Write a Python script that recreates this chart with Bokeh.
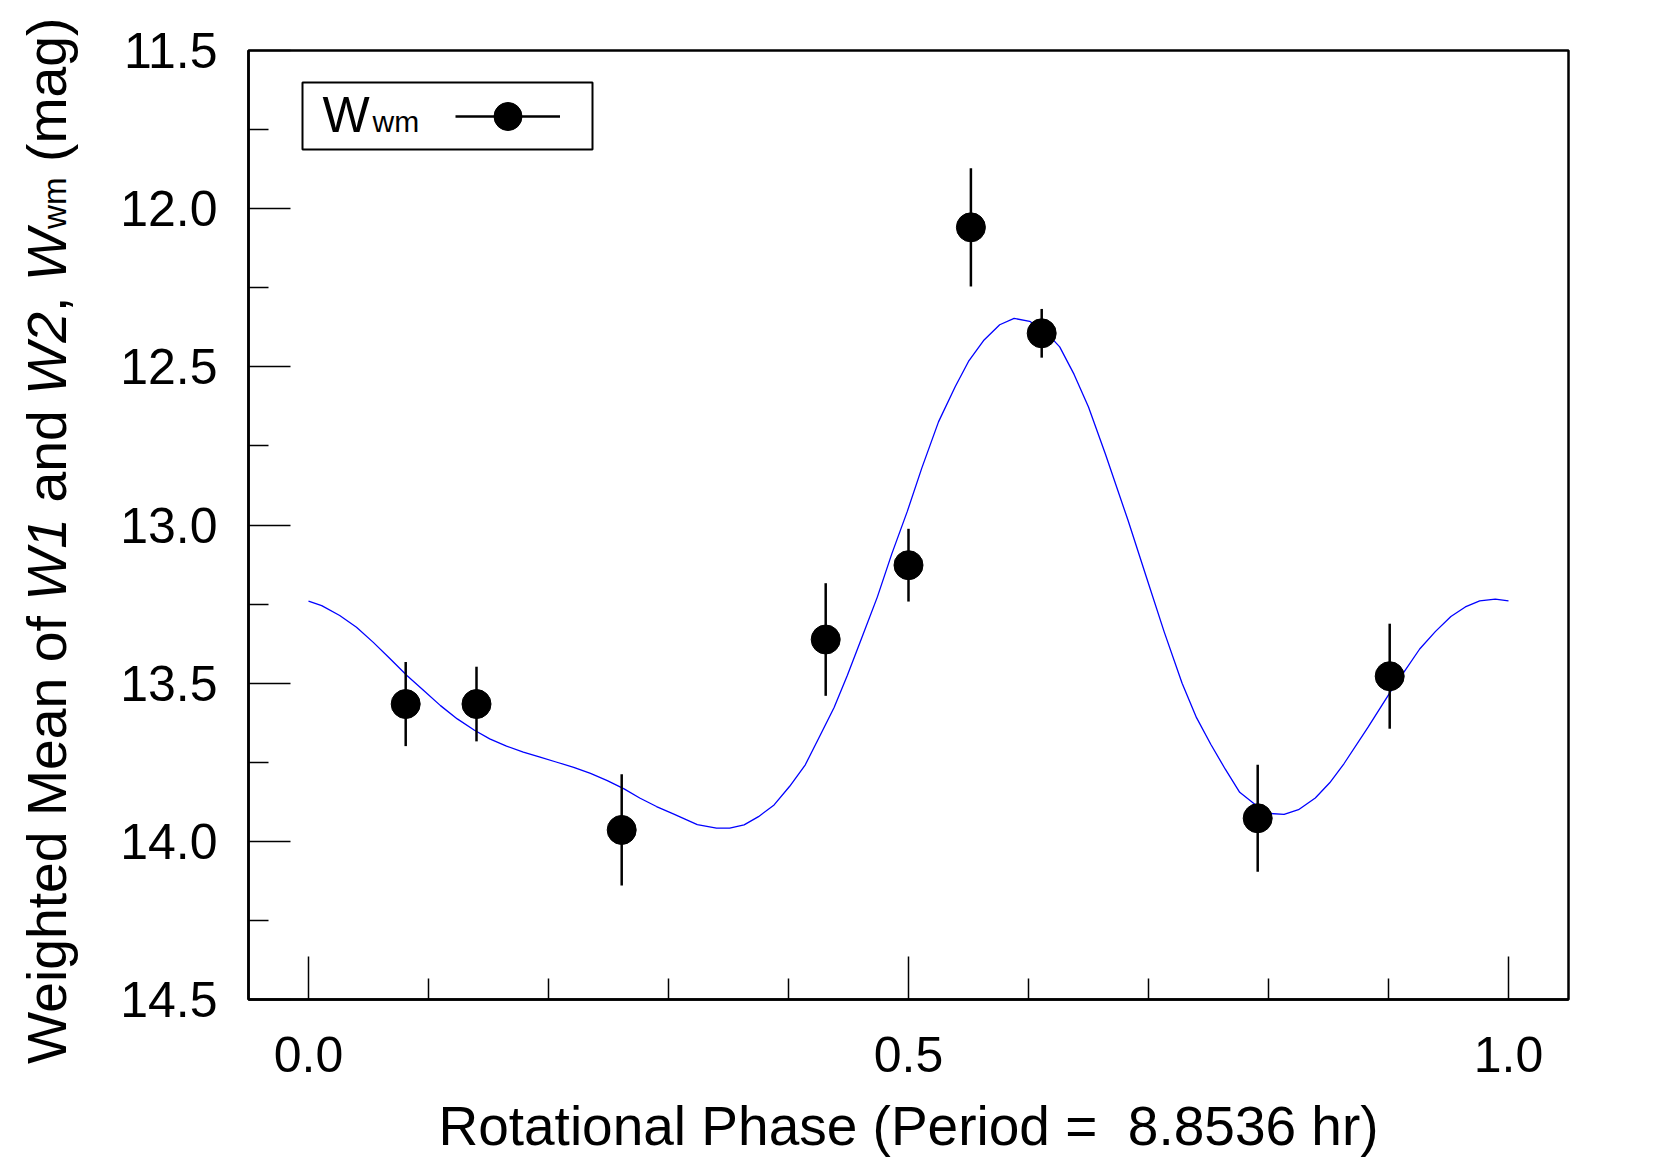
from bokeh.plotting import figure
from bokeh.layouts import row
from bokeh.models import (Range1d, FixedTicker, PrintfTickFormatter, Label,
                          BoxAnnotation, Legend, LegendItem, Div)
from bokeh.embed import file_html
from bokeh.resources import INLINE

# ---- data ----
phase = [0.081, 0.140, 0.261, 0.431, 0.500, 0.552, 0.611, 0.791, 0.901]
wmag = [13.566, 13.566, 13.964, 13.362, 13.127, 12.059, 12.394, 13.927, 13.478]
werr = [0.133, 0.118, 0.176, 0.178, 0.115, 0.187, 0.077, 0.169, 0.166]

fit_phase = [0.000, 0.011, 0.026, 0.040, 0.054, 0.068, 0.082, 0.096, 0.110, 0.124,
             0.138, 0.151, 0.165, 0.179, 0.193, 0.207, 0.221, 0.235, 0.249, 0.263,
             0.276, 0.290, 0.304, 0.324, 0.340, 0.351, 0.363, 0.375, 0.388, 0.401,
             0.414, 0.426, 0.438, 0.449, 0.461, 0.474, 0.486, 0.499, 0.511, 0.525,
             0.539, 0.550, 0.563, 0.576, 0.588, 0.601, 0.615, 0.626, 0.638, 0.650,
             0.664, 0.683, 0.698, 0.713, 0.728, 0.740, 0.752, 0.764, 0.776, 0.792,
             0.801, 0.813, 0.825, 0.839, 0.851, 0.863, 0.883, 0.902, 0.913, 0.926,
             0.939, 0.952, 0.964, 0.976, 0.989, 1.000]
fit_mag = [13.241, 13.255, 13.286, 13.323, 13.371, 13.423, 13.476, 13.523, 13.571, 13.613,
           13.648, 13.676, 13.699, 13.718, 13.734, 13.750, 13.766, 13.785, 13.808, 13.834,
           13.863, 13.890, 13.913, 13.947, 13.958, 13.958, 13.948, 13.922, 13.885, 13.826,
           13.758, 13.668, 13.577, 13.476, 13.357, 13.228, 13.092, 12.957, 12.821, 12.674,
           12.562, 12.483, 12.415, 12.367, 12.347, 12.356, 12.392, 12.437, 12.524, 12.627,
           12.775, 12.986, 13.162, 13.337, 13.500, 13.609, 13.694, 13.772, 13.845, 13.893,
           13.912, 13.915, 13.900, 13.863, 13.815, 13.754, 13.639, 13.525, 13.464, 13.392,
           13.337, 13.289, 13.259, 13.240, 13.234, 13.240]

x_major_ticks = [0.0, 0.5, 1.0]
x_minor_ticks = [0.1, 0.2, 0.3, 0.4, 0.6, 0.7, 0.8, 0.9]
y_major_ticks = [11.5, 12.0, 12.5, 13.0, 13.5, 14.0, 14.5]
y_minor_ticks = [11.75, 12.25, 12.75, 13.25, 13.75, 14.25]

x_label = "Rotational Phase (Period =\u00a0 8.8536 hr)"
legend_main, legend_sub = "W", "wm"
# y-axis title pieces: (text, kind)  kind: n = normal, i = italic, s = subscript
y_label_parts = [("Weighted Mean of ", "n"), ("W1", "i"), (" and ", "n"), ("W2", "i"),
                 (", ", "n"), ("W", "i"), ("wm", "s"), (" (mag)", "n")]

FONT = "Liberation Sans"
MID = 0.3465          # (ascent - descent) / 2 of the font, in em
W, H = 1661, 1163
LW = 100              # width of the strip that carries the y-axis title
FL, FR, FT, FB = 248, 1568, 50, 999   # frame edges in page pixels (y from top)


def text_label(txt, x, baseline, size, style="normal", align="left"):
    """Label in canvas pixels (y from top); baseline is where the text sits."""
    return Label(x=x, y=baseline - MID * size, x_units="canvas", y_units="canvas",
                 text=txt, text_font=FONT, text_font_size=f"{size:.1f}px",
                 text_font_style=style, text_color="black",
                 text_align=align, text_baseline="middle")


# ---------- left strip: y-axis title as real (svg) text ----------
YT_SIZE = 55.3
spans = []
for txt, kind in y_label_parts:
    if kind == "i":
        spans.append(f'<tspan font-style="italic">{txt}</tspan>')
    elif kind == "s":
        spans.append(f'<tspan font-size="{YT_SIZE * 0.6:.1f}">{txt}</tspan>')
    else:
        spans.append(f'<tspan>{txt}</tspan>')
svg_title = (f'<svg xmlns="http://www.w3.org/2000/svg" width="{LW}" height="{H}" '
             f'style="display:block">'
             f'<text x="-1064" y="66" transform="rotate(-90)" xml:space="preserve" '
             f'font-family="{FONT}" font-size="{YT_SIZE}" fill="black">'
             + "".join(spans) + '</text></svg>')
ytitle = Div(text=svg_title, width=LW, height=H,
             styles={"margin": "0", "padding": "0", "background": "white"})

# ---------- main plot ----------
MW = W - LW
p = figure(width=MW, height=H, x_range=Range1d(-0.05, 1.05), y_range=Range1d(14.5, 11.5),
           output_backend="svg", toolbar_location=None,
           min_border_left=FL - LW, min_border_right=W - FR,
           min_border_top=FT, min_border_bottom=H - FB)
p.grid.visible = False
p.outline_line_color = "black"
p.outline_line_width = 2.5
p.background_fill_color = "white"
p.border_fill_color = "white"

p.xaxis.ticker = FixedTicker(ticks=x_major_ticks, minor_ticks=x_minor_ticks)
p.yaxis.ticker = FixedTicker(ticks=y_major_ticks, minor_ticks=y_minor_ticks)
p.xaxis.formatter = PrintfTickFormatter(format="%.1f")
p.yaxis.formatter = PrintfTickFormatter(format="%.1f")
for ax, lmaj, lmin, standoff in ((p.xaxis, 43, 21, 37), (p.yaxis, 42, 20, 31)):
    ax.major_tick_in = lmaj
    ax.major_tick_out = 0
    ax.minor_tick_in = lmin
    ax.minor_tick_out = 0
    ax.major_tick_line_color = "black"
    ax.minor_tick_line_color = "black"
    ax.major_tick_line_width = 1.5
    ax.minor_tick_line_width = 1.5
    ax.axis_line_color = "black"
    ax.axis_line_width = 2.5
    ax.major_label_text_font = FONT
    ax.major_label_text_font_size = "50px"
    ax.major_label_text_color = "black"
    ax.major_label_standoff = standoff

# fit curve
p.line(fit_phase, fit_mag, line_color="#0000ff", line_width=1.3)
# error bars and points
lo = [m - e for m, e in zip(wmag, werr)]
hi = [m + e for m, e in zip(wmag, werr)]
seg_r = p.segment(x0=phase, y0=lo, x1=phase, y1=hi, line_color="black", line_width=2.5)
pts_r = p.scatter(phase, wmag, size=29, fill_color="black", line_color="black")

# legend: frame, text, glyph sample
p.add_layout(BoxAnnotation(left=302 - LW, right=592 - LW, top=82, bottom=149,
                           left_units="canvas", right_units="canvas",
                           top_units="canvas", bottom_units="canvas",
                           fill_alpha=0, line_color="black", line_alpha=1.0, line_width=2))
p.add_layout(text_label(legend_main, 322 - LW, 131.5, 50))
p.add_layout(text_label(legend_sub, 372 - LW, 131.5, 30))
leg = Legend(items=[LegendItem(label="", renderers=[seg_r, pts_r])],
             location=(455 - FL, FB - 151), padding=0, margin=0, spacing=0,
             glyph_width=105, glyph_height=70, label_standoff=0, label_width=0,
             label_height=0, border_line_alpha=0, background_fill_alpha=0)
p.add_layout(leg)

# x axis title (bottom side panel, so the frame does not clip it)
p.add_layout(text_label(x_label, (FL + FR) / 2 - LW, 1145, 55, align="center"), "below")

layout = row(ytitle, p, spacing=0)
open("out.html", "w").write(file_html(layout, INLINE))
